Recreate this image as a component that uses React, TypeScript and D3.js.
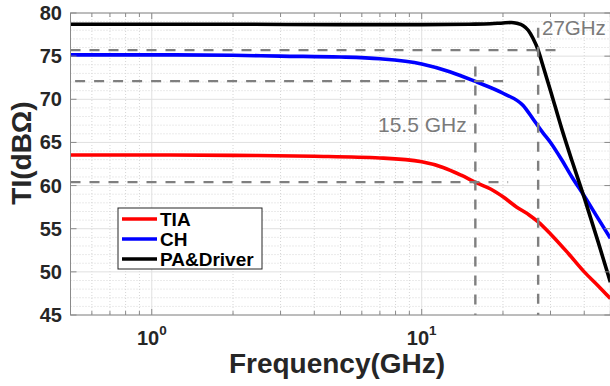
import { useEffect, useRef } from "react";
import * as d3 from "d3";

const WIDTH = 610;
const HEIGHT = 386;

// TIA
const tiaFreq = [0.5, 1, 2, 4, 7, 10, 12, 14, 16, 18, 20, 22.5, 25, 27, 30, 35, 40, 45, 50];
const tiaGain = [63.55, 63.55, 63.5, 63.4, 63.2, 62.75, 62.1, 61.2, 60.3, 59.6, 58.7, 57.5, 56.6, 55.8, 54.4, 52.1, 50.0, 48.4, 46.9];

// CH
const chFreq = [0.5, 1, 2, 3, 5, 7, 10, 12.7, 16, 20, 23.7, 26, 28, 30, 33, 36, 40, 45, 50];
const chGain = [75.15, 75.15, 75.1, 75.0, 74.9, 74.7, 74.1, 73.2, 72.0, 70.7, 69.3, 67.6, 66.2, 65.0, 63.0, 61.0, 58.8, 56.2, 53.9];

// PA&Driver
const paFreq = [0.5, 1, 2, 5, 10, 15, 18, 20, 21.5, 22.5, 23.7, 24.8, 25.8, 27, 28, 30, 33, 36, 40, 45, 50];
const paGain = [78.7, 78.7, 78.7, 78.65, 78.65, 78.7, 78.75, 78.85, 78.9, 78.8, 78.55, 78.0, 77.1, 75.7, 74.1, 71.0, 66.6, 62.9, 58.6, 53.5, 48.8];

const legendLabels = ["TIA", "CH", "PA&Driver"];
const seriesColors = ["#ff0000", "#0000ff", "#000000"];

// -3dB guides: [level, fromFreq, toFreq]
const hGuides: [number, number, number][] = [
  [75.7, 0.5, 31.7],
  [72.1, 0.52, 21.6],
  [60.4, 0.5, 20.9],
];
// [freq, topLevel]
const vGuides: [number, number][] = [
  [15.8, 73.8],
  [27, 78.3],
];

const yTickValues = [45, 50, 55, 60, 65, 70, 75, 80];
const xTickLabels = [
  { v: 1, exp: "0" },
  { v: 10, exp: "1" },
];

export default function App() {
  const svgRef = useRef<SVGSVGElement>(null);

  useEffect(() => {
    document.body.style.margin = "0";
    if (!svgRef.current) return;
    const svg = d3.select(svgRef.current);
    svg.selectAll("*").remove();

    const left = 70.5, right = 610.4, top = 13, bottom = 315;
    const x = d3.scaleLog().domain([0.5, 50]).range([left, right]);
    const y = d3.scaleLinear().domain([45, 80]).range([bottom, top]);

    svg.append("rect").attr("width", WIDTH).attr("height", HEIGHT).attr("fill", "#fff");

    const g = svg.append("g");

    // grid
    const xTicks = x.ticks();
    const isMajorX = (v: number) => Math.abs(Math.log10(v) - Math.round(Math.log10(v))) < 1e-6;
    const yMinor = y.ticks(35);

    g.selectAll(".xminor")
      .data(xTicks.filter((v) => !isMajorX(v)))
      .enter()
      .append("line")
      .attr("x1", (d) => x(d)).attr("x2", (d) => x(d))
      .attr("y1", top).attr("y2", bottom)
      .attr("stroke", "#d6d6d6").attr("stroke-width", 1)
      .attr("stroke-dasharray", "1,2");
    g.selectAll(".yminor")
      .data(yMinor.filter((v) => v % 5 !== 0))
      .enter()
      .append("line")
      .attr("x1", left).attr("x2", right)
      .attr("y1", (d) => y(d)).attr("y2", (d) => y(d))
      .attr("stroke", "#d6d6d6").attr("stroke-width", 1)
      .attr("stroke-dasharray", "1,2");
    g.selectAll(".xmajor")
      .data(xTicks.filter(isMajorX))
      .enter()
      .append("line")
      .attr("x1", (d) => x(d)).attr("x2", (d) => x(d))
      .attr("y1", top).attr("y2", bottom)
      .attr("stroke", "#e0e0e0").attr("stroke-width", 1);
    g.selectAll(".ymajor")
      .data(yTickValues)
      .enter()
      .append("line")
      .attr("x1", left).attr("x2", right)
      .attr("y1", (d) => y(d)).attr("y2", (d) => y(d))
      .attr("stroke", "#e0e0e0").attr("stroke-width", 1);

    // curves
    const series = [
      { f: tiaFreq, v: tiaGain },
      { f: chFreq, v: chGain },
      { f: paFreq, v: paGain },
    ];
    const line = d3
      .line<[number, number]>()
      .x((d) => x(d[0]))
      .y((d) => y(d[1]))
      .curve(d3.curveMonotoneX);

    series.forEach((s, i) => {
      const pts = s.f.map((f, k) => [f, s.v[k]] as [number, number]);
      g.append("path")
        .attr("d", line(pts))
        .attr("fill", "none")
        .attr("stroke", seriesColors[i])
        .attr("stroke-width", 3.6)
        .attr("stroke-linejoin", "round");
    });

    // guides
    hGuides.forEach(([lvl, f0, f1]) => {
      g.append("line")
        .attr("x1", x(f0)).attr("x2", x(f1))
        .attr("y1", y(lvl)).attr("y2", y(lvl))
        .attr("stroke", "#7f7f7f").attr("stroke-width", 2.4)
        .attr("stroke-dasharray", "10,9");
    });
    vGuides.forEach(([f, lvl]) => {
      g.append("line")
        .attr("x1", x(f)).attr("x2", x(f))
        .attr("y1", y(lvl)).attr("y2", bottom)
        .attr("stroke", "#7f7f7f").attr("stroke-width", 2.4)
        .attr("stroke-dasharray", "10,9");
    });

    g.append("text")
      .attr("x", 542).attr("y", 35)
      .attr("font-family", "Liberation Sans, Arial, sans-serif")
      .attr("font-size", 20.5)
      .attr("fill", "#7a7a7a")
      .text("27GHz");
    g.append("text")
      .attr("x", 378).attr("y", 132)
      .attr("font-family", "Liberation Sans, Arial, sans-serif")
      .attr("font-size", 21)
      .attr("fill", "#7a7a7a")
      .text("15.5 GHz");

    // axes box
    const axisColor = "#8a8a8a";
    g.append("rect")
      .attr("x", left).attr("y", top)
      .attr("width", right - left).attr("height", bottom - top)
      .attr("fill", "none").attr("stroke", axisColor).attr("stroke-width", 1);

    // x ticks (bottom and top, inward)
    xTicks.forEach((v) => {
      const len = isMajorX(v) ? 6 : 4;
      g.append("line").attr("x1", x(v)).attr("x2", x(v)).attr("y1", bottom).attr("y2", bottom - len).attr("stroke", axisColor);
      g.append("line").attr("x1", x(v)).attr("x2", x(v)).attr("y1", top).attr("y2", top + len).attr("stroke", axisColor);
    });
    yTickValues.forEach((v) => {
      g.append("line").attr("x1", left).attr("x2", left + 6).attr("y1", y(v)).attr("y2", y(v)).attr("stroke", axisColor);
      g.append("line").attr("x1", right).attr("x2", right - 6).attr("y1", y(v)).attr("y2", y(v)).attr("stroke", axisColor);
    });

    const font = "Liberation Sans, Arial, sans-serif";

    // y tick labels
    g.selectAll(".ylab")
      .data(yTickValues)
      .enter()
      .append("text")
      .attr("x", 62)
      .attr("y", (d) => y(d) + 7)
      .attr("text-anchor", "end")
      .attr("font-family", font)
      .attr("font-weight", "bold")
      .attr("font-size", 20)
      .attr("fill", "#262626")
      .text((d) => d);

    // x tick labels
    xTickLabels.forEach((t) => {
      const txt = g.append("text")
        .attr("x", x(t.v))
        .attr("y", 345)
        .attr("text-anchor", "middle")
        .attr("font-family", font)
        .attr("font-weight", "bold")
        .attr("font-size", 20)
        .attr("fill", "#262626")
        .text("10");
      txt.append("tspan").attr("dy", -10.5).attr("font-size", 13.5).text(t.exp);
    });

    // axis titles
    g.append("text")
      .attr("x", 337).attr("y", 373)
      .attr("text-anchor", "middle")
      .attr("font-family", font)
      .attr("font-weight", "bold")
      .attr("font-size", 28)
      .attr("fill", "#262626")
      .text("Frequency(GHz)");
    g.append("text")
      .attr("transform", "translate(31,153) rotate(-90)")
      .attr("text-anchor", "middle")
      .attr("font-family", font)
      .attr("font-weight", "bold")
      .attr("font-size", 28)
      .attr("fill", "#262626")
      .text("TI(dBΩ)");

    // legend
    const lg = g.append("g").attr("transform", "translate(118,208)");
    lg.append("rect")
      .attr("width", 144).attr("height", 61)
      .attr("fill", "#fff").attr("stroke", "#262626").attr("stroke-width", 1);
    legendLabels.forEach((name, i) => {
      const cy = 11 + i * 20;
      lg.append("line")
        .attr("x1", 4).attr("x2", 39)
        .attr("y1", cy).attr("y2", cy)
        .attr("stroke", seriesColors[i]).attr("stroke-width", 3.6);
      lg.append("text")
        .attr("x", 42).attr("y", cy + 7)
        .attr("font-family", font)
        .attr("font-weight", "bold")
        .attr("font-size", 19)
        .attr("fill", "#000")
        .text(name);
    });
  }, []);

  return <svg ref={svgRef} width={WIDTH} height={HEIGHT} style={{ display: "block" }} />;
}
